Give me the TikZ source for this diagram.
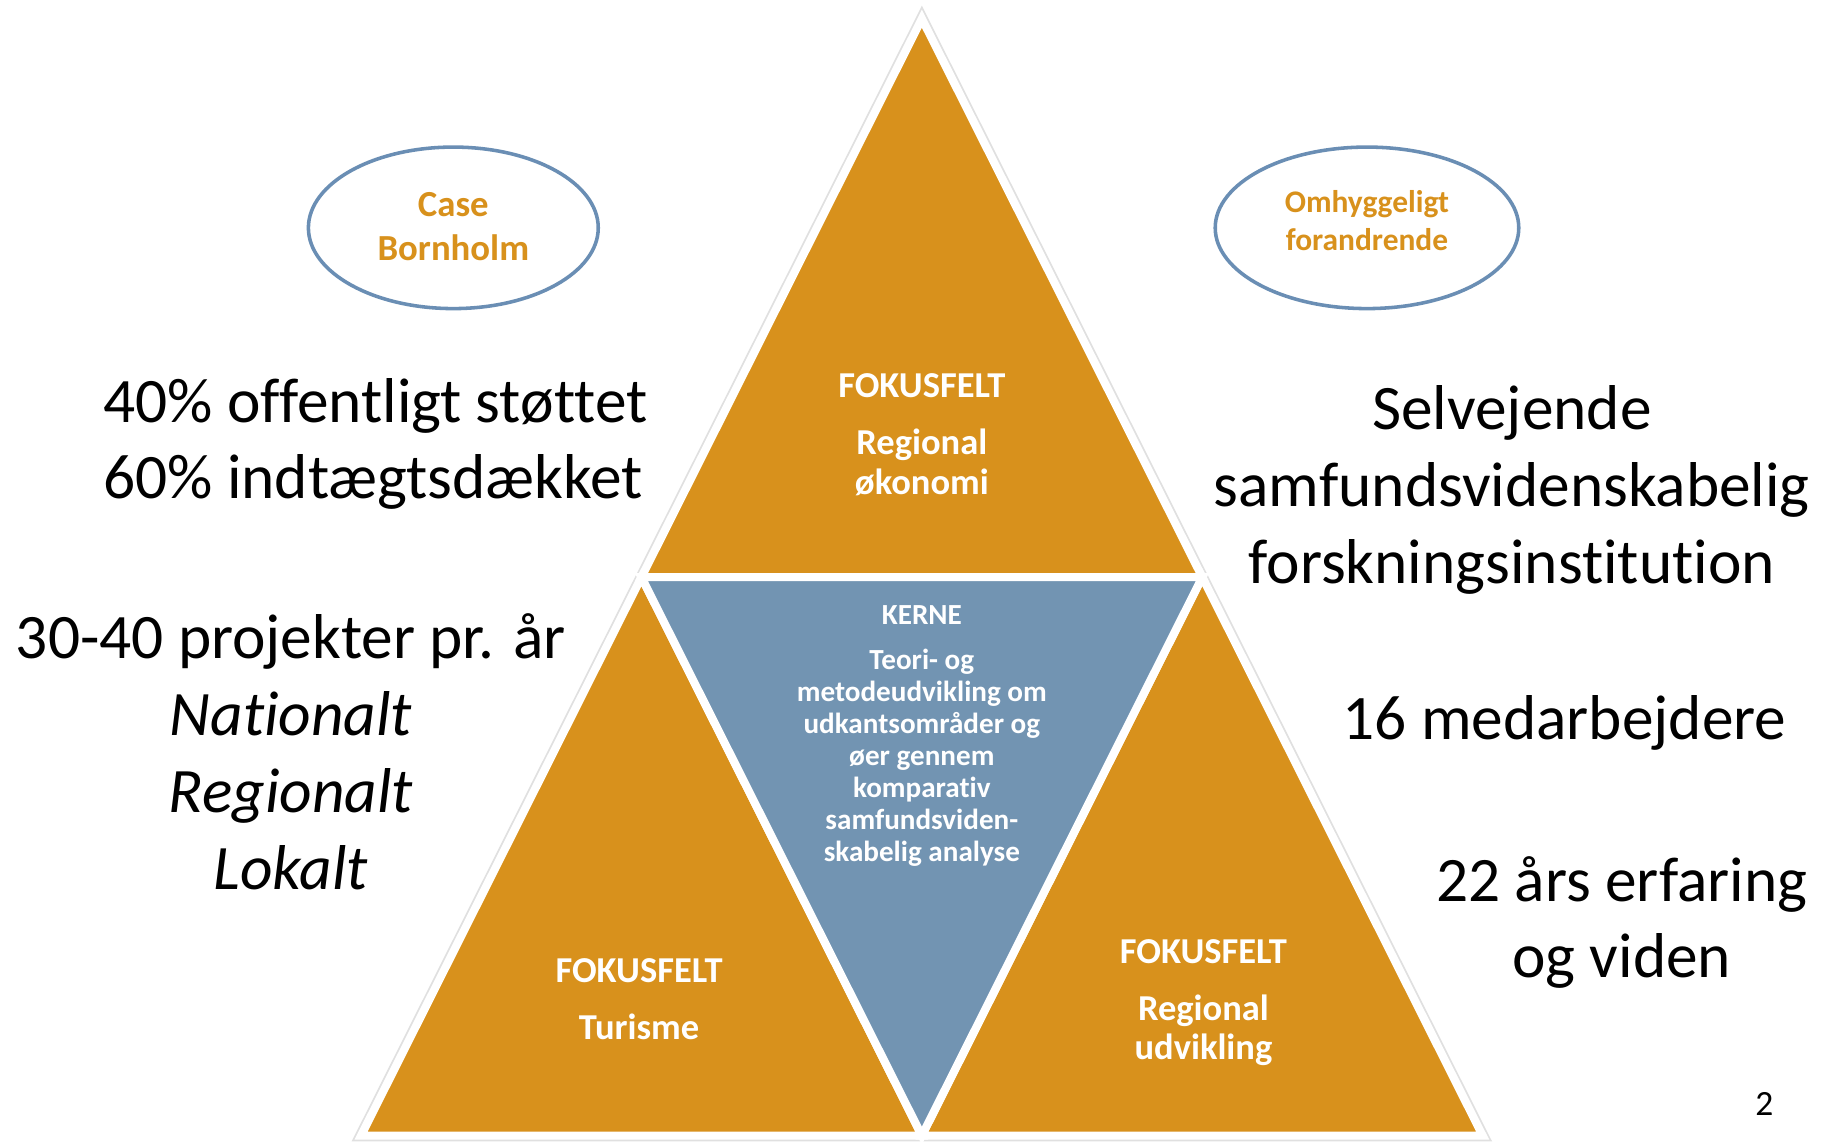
\documentclass[tikz,border=0pt]{standalone}
\usepackage{fontspec}
\setmainfont{Carlito}[Ligatures=CommonOff]
\usetikzlibrary{shapes.geometric,calc}
\definecolor{tri}{RGB}{216,145,28}
\definecolor{kern}{RGB}{114,148,178}
\definecolor{ell}{RGB}{106,142,180}
\tikzset{
  bigtext/.style={font=\fontsize{25}{30.3}\selectfont, text=black, inner sep=0pt, align=center},
  tritext/.style={font=\fontsize{14.4}{15.6}\selectfont\bfseries, text=white, inner sep=0pt, align=center},
  kerntext/.style={font=\fontsize{11.5}{12.6}\selectfont\bfseries, text=white, inner sep=0pt, align=center},
  ellbox/.style={ellipse, draw=ell, line width=1.4pt, fill=white, inner sep=0pt},
  trifill/.style={draw=white, line width=3.2pt, line join=miter},
}
\begin{document}
\begin{tikzpicture}[x=0.016199cm, y=-0.016199cm]
\useasboundingbox (0,0) rectangle (1568,979);
\fill[white] (0,0) rectangle (1568,979);
% corner points of the big triangle and its midpoints
\coordinate (A) at (789,16);
\coordinate (L) at (309,972);
\coordinate (R) at (1269,972);
\coordinate (ML) at ($(A)!0.5!(L)$);
\coordinate (MR) at ($(A)!0.5!(R)$);
\coordinate (MB) at ($(L)!0.5!(R)$);
% faint shadow
\draw[black!12, line width=4.6pt, line join=miter] (A) -- (L) -- (R) -- cycle;
% four sub-triangles
\filldraw[trifill, fill=tri] (A) -- (ML) -- (MR) -- cycle;
\filldraw[trifill, fill=tri] (ML) -- (L) -- (MB) -- cycle;
\filldraw[trifill, fill=tri] (MR) -- (MB) -- (R) -- cycle;
\filldraw[trifill, fill=kern] (ML) -- (MR) -- (MB) -- cycle;
% triangle texts (base anchor = baseline of last line)
\node[tritext, anchor=base] (top) at (789,423) {FOKUSFELT\\[6.9pt]Regional\\økonomi};
\node[tritext, anchor=base] (bl) at (547,890) {FOKUSFELT\\[6.9pt]Turisme};
\node[tritext, anchor=base] (br) at (1030,907) {FOKUSFELT\\[6.9pt]Regional\\udvikling};
\node[kerntext, anchor=base] (kerne) at (789,737) {KERNE\\[5.3pt]Teori- og\\metodeudvikling om\\udkantsområder og\\øer gennem\\komparativ\\samfundsviden-\\skabelig analyse};
% ellipses
\node[ellbox, minimum width=4.02cm, minimum height=2.24cm] (e1) at (388,195) {};
\node[font=\fontsize{14.5}{17.4}\selectfont\bfseries, text=tri, align=center, inner sep=0pt, anchor=base] (e1t) at (388,223) {Case\\Bornholm};
\node[ellbox, minimum width=4.21cm, minimum height=2.24cm] (e2) at (1170,195) {};
\node[font=\fontsize{12.4}{15}\selectfont\bfseries, text=tri, align=center, inner sep=0pt, anchor=base] (e2t) at (1170,214) {Omhyggeligt\\forandrende};
% left texts
\node[bigtext, align=left, anchor=base west] (l1) at (88,427) {40\% offentligt støttet\\60\% indtægtsdækket};
\node[bigtext, anchor=base] (l2) at (249,761) {30-40 projekter pr. år\\\textit{Nationalt}\\\textit{Regionalt}\\\textit{Lokalt}};
% right texts
\node[bigtext, anchor=base] (r1) at (1294,499) {Selvejende\\samfundsvidenskabelig\\forskningsinstitution};
\node[bigtext, anchor=base] (r2) at (1339,633) {16 medarbejdere};
\node[bigtext, anchor=base] (r3) at (1388,837) {22 års erfaring\\og viden};
\node[font=\fontsize{14}{16}\selectfont, inner sep=0pt, anchor=base] (pg) at (1510,955) {2};
\end{tikzpicture}
\end{document}
